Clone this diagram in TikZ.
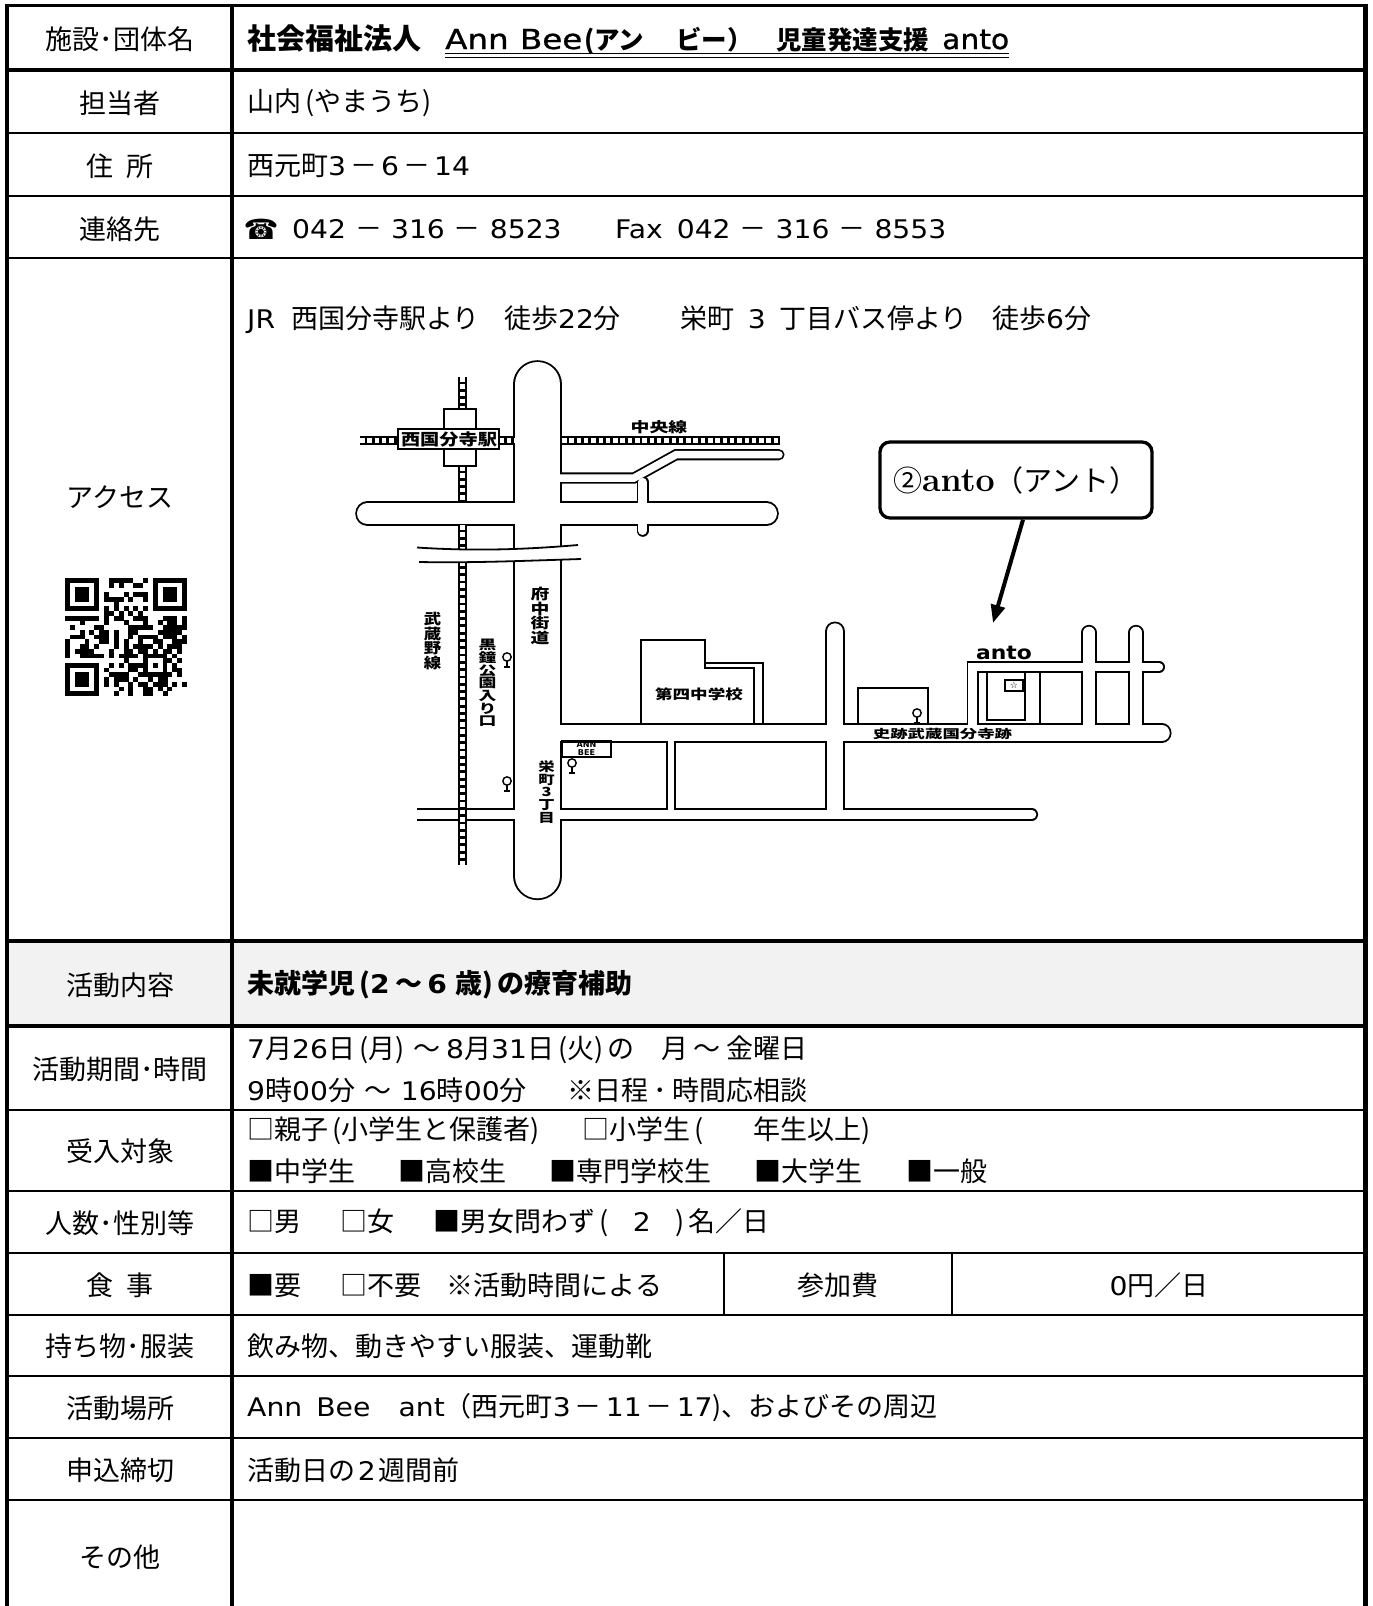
\documentclass[tikz,border=0pt]{standalone}
\usepackage{fontspec}
\usepackage{graphicx}
\usetikzlibrary{arrows.meta}
\newfontfamily\jp{Noto Sans CJK JP}
\newfontfamily\latfont{DejaVu Sans}[Scale=0.95]
\newfontfamily\latmed{DejaVu Sans}[Scale=0.95, FakeBold=0.9]
\newfontfamily\symf{DejaVu Sans}
\newcommand{\latn}[1]{\scalebox{1.1}[1]{\latfont #1}}
\newcommand{\lp}{\hspace{0.15em}(}
\newcommand{\rp}{)\hspace{0.15em}}
\newcommand{\tl}{\hspace{0.2em}～\hspace{0.2em}}
\newcommand{\fwd}[1][4pt]{\hspace{#1}－\hspace{#1}}
\newcommand{\vstack}[2]{\parbox{#1}{\centering #2}}
\newcommand{\roadnet}[1]{%
  \draw[#1=45pt, line cap=round] (537.5,384.5) -- (537.5,875.8);
  \draw[#1=21pt, line cap=round] (367.5,513.7) -- (766.5,513.7);
  \draw[#1=7.5pt, line cap=round, line join=miter] (540,478) -- (634,478) -- (676,454.7) -- (779,454.7);
  \draw[#1=8.4pt, line cap=round] (642.5,482) -- (642.5,530.8);
  \draw[#1=15.5pt, line cap=round] (540,733) -- (1162,733);
  \draw[#1=8.5pt] (417,814.5) -- (540,814.5);
  \draw[#1=8.5pt, line cap=round] (540,814.5) -- (1032,814.5);
  \draw[#1=5.7pt] (671,733) -- (671,814.5);
  \draw[#1=16.6pt, line cap=round] (835,631.6) -- (835,700);
  \draw[#1=16.6pt] (835,650) -- (835,814.5);
  \draw[#1=8.4pt, line cap=round, line join=miter] (972.5,731) -- (972.5,667) -- (1159,667);
  \draw[#1=11.7pt, line cap=round] (1089,632.5) -- (1089,731);
  \draw[#1=11.7pt, line cap=round] (1136,632.5) -- (1136,731);
}
\begin{document}
\begin{tikzpicture}[x=1pt,y=-1pt,
  lbl/.style={font=\jp\fontsize{27}{30}\selectfont, inner sep=0pt},
  txt/.style={font=\jp\fontsize{27}{30}\selectfont, inner sep=0pt, anchor=west},
  hdrj/.style={font=\jp\bfseries\fontsize{#1}{30}\selectfont, inner sep=0pt, anchor=base west},
  hdrl/.style={font=\latmed\fontsize{29}{30}\selectfont, inner sep=0pt, anchor=base west},
  tbthick/.style={line width=3.3pt},
  tbthin/.style={line width=2pt},
  rdB/.style={line width=#1+3.6pt, draw=black},
  rdW/.style={line width=#1, draw=white},
  railB/.style={line width=9.5pt, draw=black},
  railW/.style={line width=5pt, draw=white, dash pattern=on 4.5pt off 2.8pt},
  mapline/.style={line width=1.8pt},
  maptxt/.style={font=\jp\bfseries\fontsize{#1}{#1}\selectfont, inner sep=0pt, align=center},
  callout/.style={draw, line width=3.3pt, rounded corners=10pt, inner ysep=0pt, inner xsep=13pt, minimum height=76pt, text width=246pt, align=left, font=\jp\fontsize{29}{30}\selectfont},
  busstop/.pic={\draw[line width=1.4pt] (0,0) circle (4.2); \draw[line width=1.4pt] (0,4.2) -- (0,10) (-3.2,10) -- (3.2,10);}
]
\useasboundingbox (0,0) rectangle (1373,1606);
\fill[white] (0,0) rectangle (1373,1606);
% ---------- table ----------
\fill[black!5] (7,941) rectangle (1366,1026);
\foreach \yy in {133,196,258,1110,1191,1253,1315,1376,1438,1500} \draw[tbthin] (7,\yy) -- (1366,\yy);
\foreach \yy in {70,941,1026} \draw[tbthick] (7,\yy) -- (1366,\yy);
\draw[line width=3.6pt] (5,5.5) -- (1368,5.5);
\draw[line width=4.2pt] (7,3.7) -- (7,1606);
\draw[line width=4.7pt] (1365.5,3.7) -- (1365.5,1606);
\draw[line width=3.3pt] (232,5.5) -- (232,1606);
\draw[tbthin] (724,1253) -- (724,1315);
\draw[tbthin] (952,1253) -- (952,1315);
% labels
\node[lbl] (l1) at (120,39) {施設･団体名};
\node[lbl] (l2) at (120,103) {担当者};
\node[lbl] (l3) at (120,166) {住\hspace{0.5em}所};
\node[lbl] (l4) at (120,229) {連絡先};
\node[lbl] (l5) at (120,497) {アクセス};
\node[lbl] (l6) at (120,985) {活動内容};
\node[lbl] (l7) at (120,1069) {活動期間･時間};
\node[lbl] (l8) at (120,1151) {受入対象};
\node[lbl] (l9) at (120,1223) {人数･性別等};
\node[lbl] (l10) at (120,1285) {食\hspace{0.5em}事};
\node[lbl] (l11) at (120,1346) {持ち物･服装};
\node[lbl] (l12) at (120,1408) {活動場所};
\node[lbl] (l13) at (120,1470) {申込締切};
\node[lbl] (l14) at (120,1557) {その他};
% header
\node[hdrj=29] (h1) at (247,49) {社会福祉法人};
\node[hdrl] (h2) at (445,49) {\scalebox{1.18}[1]{Ann\hspace{0.35em}Bee}};
\node[hdrj=25.5] (h3) at (584,49) {(アン};
\node[hdrj=25.5] (h4) at (676,49) {ビー）};
\node[hdrj=25.5] (h5) at (776,49) {児童発達支援};
\node[hdrl] (h6) at (942,49) {\scalebox{1.08}[1]{anto}};
\draw[line width=1.2pt] (h2.west |- 0,53.2) -- (h6.east |- 0,53.2);
\draw[line width=1.2pt] (h2.west |- 0,57.2) -- (h6.east |- 0,57.2);
% contents
\node[txt] (t2) at (247,103) {山内\lp やまうち\rp};
\node[txt] (t3) at (247,166) {西元町\latn{3}\fwd\latn{6}\fwd\latn{14}};
\node[inner sep=0pt, font=\symf\fontsize{28}{30}\selectfont] (tel) at (261,229) {☎};
\node[txt] (t4a) at (292,229) {\latn{042}\fwd[9pt]\latn{316}\fwd[9pt]\latn{8523}};
\node[txt] (t4b) at (615,229) {\latn{Fax}\hspace{14pt}\latn{042}\fwd[9pt]\latn{316}\fwd[9pt]\latn{8553}};
\node[txt] (t5) at (247,320) {\latn{JR}\hspace{0.6em}西国分寺駅より\hspace{0.9em}徒歩\latn{22}分\hspace{2.2em}栄町\hspace{0.5em}\latn{3}\hspace{0.5em}丁目バス停より\hspace{0.9em}徒歩\latn{6}分};
\node[txt, font=\jp\bfseries\fontsize{27}{30}\selectfont] (t6) at (247,985) {未就学児\lp\latn{2}\tl\latn{6}\hspace{0.3em}歳\rp の療育補助};
\node[txt] (t7a) at (247,1050) {\latn{7}月\latn{26}日\lp 月\rp\tl\latn{8}月\latn{31}日\lp 火\rp の\hspace{1em}月\tl 金曜日};
\node[txt] (t7b) at (247,1090) {\latn{9}時\latn{00}分\hspace{0.35em}～\hspace{0.35em}\latn{16}時\latn{00}分\hspace{1.5em}※日程\hspace{0.2em}･\hspace{0.2em}時間応相談};
\node[txt] (t8a) at (247,1131) {□親子\lp 小学生と保護者\rp\hspace{1.45em}□小学生\lp\hspace{1.85em}年生以上\rp};
\node[txt] (t8b) at (247,1171) {■中学生\hspace{1.6em}■高校生\hspace{1.6em}■専門学校生\hspace{1.6em}■大学生\hspace{1.6em}■一般};
\node[txt] (t9) at (247,1223) {□男\hspace{1.45em}□女\hspace{1.45em}■男女問わず\lp\hspace{0.9em}\latn{2}\hspace{0.9em}\rp 名／日};
\node[txt] (t10) at (247,1285) {■要\hspace{1.45em}□不要\hspace{0.95em}※活動時間による};
\node[lbl] (fee) at (838,1285) {参加費};
\node[lbl] (feev) at (1159,1285) {\latn{0}円／日};
\node[txt] (t11) at (247,1346) {飲み物、動きやすい服装、運動靴};
\node[txt] (t12) at (247,1408) {\latn{Ann\hspace{0.5em}Bee\hspace{1em}ant}（西元町\latn{3}\fwd\latn{11}\fwd\latn{17})、およびその周辺};
\node[txt] (t13) at (247,1470) {活動日の\hspace{0.1em}\latn{2}\hspace{0.1em}週間前};
% ---------- QR code ----------
\pgfmathsetseed{7}
\foreach \i in {0,...,24}{
  \foreach \j in {0,...,24}{
    \pgfmathtruncatemacro\qskip{((\i<8)&&(\j<8))||((\i>16)&&(\j<8))||((\i<8)&&(\j>16))||((\i>15)&&(\i<21)&&(\j>15)&&(\j<21))}
    \ifnum\qskip=0
      \pgfmathtruncatemacro\qbit{rnd>0.48}
      \ifnum\j=6 \pgfmathtruncatemacro\qbit{mod(\i+1,2)}\fi
      \ifnum\i=6 \pgfmathtruncatemacro\qbit{mod(\j+1,2)}\fi
      \ifnum\qbit=1 \fill (65+\i*4.88,578+\j*4.72) rectangle ++(4.95,4.8);\fi
    \fi
  }
}
\foreach \fx/\fy in {0/0,18/0,0/18}{
  \fill (65+\fx*4.88,578+\fy*4.72) rectangle ++(7*4.88,7*4.72);
  \fill[white] (65+\fx*4.88+4.88,578+\fy*4.72+4.72) rectangle ++(5*4.88,5*4.72);
  \fill (65+\fx*4.88+2*4.88,578+\fy*4.72+2*4.72) rectangle ++(3*4.88,3*4.72);
}
\fill (65+16*4.88,578+16*4.72) rectangle ++(5*4.88,5*4.72);
\fill[white] (65+17*4.88,578+17*4.72) rectangle ++(3*4.88,3*4.72);
\fill (65+18*4.88,578+18*4.72) rectangle ++(4.88,4.72);
% ---------- map ----------
\roadnet{rdB}
\roadnet{rdW}
\foreach \a/\b in {377/409.3, 466/502.4, 525/865}{
  \draw[railB] (462.5,\a) -- (462.5,\b);
  \draw[railW] (462.5,\a) -- (462.5,\b);
}
\foreach \a/\b in {360/398.3, 499.3/514, 562/780}{
  \draw[railB] (\a,440.7) -- (\b,440.7);
  \draw[railW] (\a,440.7) -- (\b,440.7);
}
\draw[mapline, fill=white] (444,409.3) -- (476,409.3) -- (476,429.3) -- (499.3,429.3) -- (499.3,449.3) -- (476,449.3) -- (476,466) -- (444,466) -- (444,449.3) -- (398.3,449.3) -- (398.3,429.3) -- (444,429.3) -- cycle;
\draw[mapline] (398.3,429.3) rectangle (499.3,449.3);
\node[maptxt=16] (lblStation) at (449,439.5) {\scalebox{1.2}[1]{西国分寺駅}};
\fill[white] (417,547.5) .. controls (470,551) and (520,550) .. (578,545) -- (581,559) .. controls (520,561) and (470,563) .. (419,562) -- cycle;
\draw[mapline] (417,547.5) .. controls (470,551) and (520,550) .. (578,545);
\draw[mapline] (419,562) .. controls (470,563) and (520,561) .. (581,559);
\draw[mapline] (641,725) -- (641,640) -- (705,640) -- (705,668) -- (754,668) -- (754,725);
\draw[mapline] (705,663) -- (763,663) -- (763,725);
\draw[mapline] (858,725) -- (858,688) -- (928,688) -- (928,725);
\draw[mapline] (987,671) -- (987,720) -- (1025,720) -- (1025,671);
\draw[mapline] (1040,671) -- (1040,725);
\node[maptxt=14] (lblChuo) at (659,427.5) {\scalebox{1.35}[1]{中央線}};
\node[maptxt=14.5] (lblMus) at (432.5,641) {\scalebox{1.2}[1]{\vstack{15pt}{武\\蔵\\野\\線}}};
\node[maptxt=14.5] (lblFuchu) at (540,616) {\scalebox{1.3}[1]{\vstack{15pt}{府\\中\\街\\道}}};
\node[maptxt=12.7] (lblKuro) at (487.5,683) {\scalebox{1.4}[1]{\vstack{13pt}{黒\\鐘\\公\\園\\入\\り\\口}}};
\node[maptxt=12.6] (lblSakae) at (546.5,792) {\scalebox{1.3}[1]{\vstack{13pt}{栄\\町\\3\\丁\\目}}};
\node[maptxt=13.5] (lblSchool) at (699,694) {\scalebox{1.3}[1]{第四中学校}};
\node[maptxt=12] (lblShiseki) at (942.5,733.5) {\scalebox{1.45}[1]{史跡武蔵国分寺跡}};
\node[inner sep=0pt, font=\latfont\bfseries\fontsize{20}{20}\selectfont] (lblAnto) at (1004,653) {\scalebox{1.15}[1]{anto}};
\node[draw, line width=1.2pt, minimum width=49pt, minimum height=16pt, inner sep=0pt, font=\latfont\bfseries\fontsize{8.5}{8}\selectfont, align=center] (annbee) at (586.5,749) {ANN\\BEE};
\node[draw, line width=1.2pt, minimum width=18pt, minimum height=11pt, inner sep=0pt, font=\symf\fontsize{9}{9}\selectfont] (starbox) at (1014,685.5) {☆};
\pic at (507,657) {busstop};
\pic at (507,781) {busstop};
\pic at (572,763) {busstop};
\pic at (917,713) {busstop};
\node[callout] (callout) at (1016,480) {②{\rmfamily\bfseries\fontsize{34}{34}\selectfont anto}（アント）};
\coordinate (antotip) at (993,623);
\draw[line width=4pt, -{Triangle[length=18pt,width=14pt]}] ([xshift=7pt]callout.south) -- (antotip);
\end{tikzpicture}
\end{document}
